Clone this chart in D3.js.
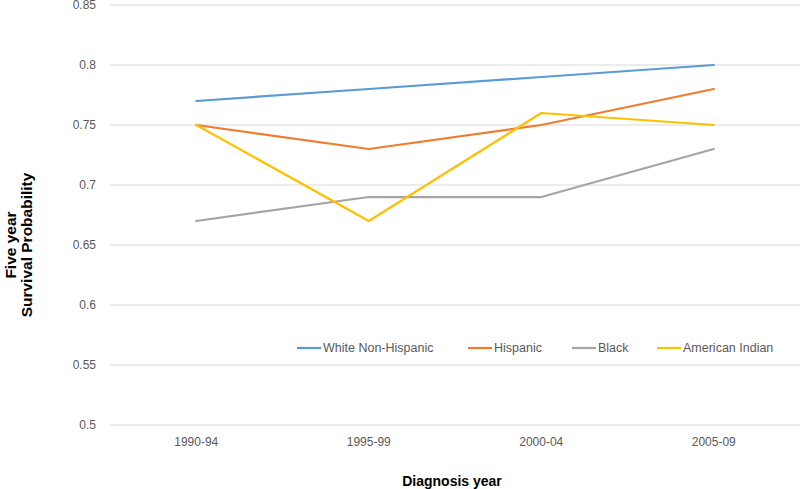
<!DOCTYPE html>
<html><head><meta charset="utf-8">
<script src="https://cdn.jsdelivr.net/npm/d3@7"></script>
<style>body{margin:0;background:#fff}svg{display:block}</style>
</head><body><svg id="c" width="800" height="489"></svg>
<script>
const categories = ["1990-94","1995-99","2000-04","2005-09"];
const seriesNames = ["White Non-Hispanic","Hispanic","Black","American Indian"];
const white = [0.77,0.78,0.79,0.80];
const hispanic = [0.75,0.73,0.75,0.78];
const black = [0.67,0.69,0.69,0.73];
const americanIndian = [0.75,0.67,0.76,0.75];
const yTicks = [0.5,0.55,0.6,0.65,0.7,0.75,0.8,0.85];
const yTickLabels = ["0.5","0.55","0.6","0.65","0.7","0.75","0.8","0.85"];
const colors = ["#5B9BD5","#ED7D31","#A5A5A5","#FFC000"];
const series = [white,hispanic,black,americanIndian];

const svg = d3.select("#c");
const x = d3.scaleBand().domain(categories).range([110,800]);
const y = d3.scaleLinear().domain([0.5,0.85]).range([425,5]);

svg.append("g").selectAll("line").data(yTicks).join("line")
  .attr("x1",110).attr("x2",800)
  .attr("y1",d=>y(d)).attr("y2",d=>y(d))
  .attr("stroke","#d9d9d9").attr("stroke-width",1);

const yAxis = d3.axisLeft(y).tickValues(yTicks).tickFormat((d,i)=>yTickLabels[i]).tickSize(0).tickPadding(0);
const ya = svg.append("g").attr("transform","translate(96,0)").call(yAxis);
ya.select(".domain").remove();
ya.selectAll("text").attr("fill","#595959").style("font-family","Liberation Sans, Arial, sans-serif").style("font-size","12px");

const xAxis = d3.axisBottom(x).tickSize(0).tickPadding(0);
const xa = svg.append("g").attr("transform","translate(0,437)").call(xAxis);
xa.select(".domain").remove();
xa.selectAll("text").attr("fill","#595959").style("font-family","Liberation Sans, Arial, sans-serif").style("font-size","12px");

const line = d3.line().x((d,i)=>x(categories[i])+x.bandwidth()/2).y(d=>y(d));
svg.append("g").selectAll("path").data(series).join("path")
  .attr("d",d=>line(d)).attr("fill","none")
  .attr("stroke",(d,i)=>colors[i]).attr("stroke-width",2.25).attr("stroke-linejoin","round").attr("stroke-linecap","round");

const legendX = [297,468,572,657];
const lg = svg.append("g").selectAll("g").data(seriesNames).join("g")
  .attr("transform",(d,i)=>`translate(${legendX[i]},348)`);
lg.append("line").attr("x1",0).attr("x2",24).attr("y1",0).attr("y2",0)
  .attr("stroke",(d,i)=>colors[i]).attr("stroke-width",2.25);
lg.append("text").attr("x",26).attr("y",4).text(d=>d)
  .attr("fill","#595959").style("font-family","Liberation Sans, Arial, sans-serif").style("font-size","12.5px");

svg.append("text").attr("x",452).attr("y",486).attr("text-anchor","middle")
  .style("font-family","Liberation Sans, Arial, sans-serif").style("font-size","14px").style("font-weight","bold").text("Diagnosis year");
const yt = svg.append("text").attr("transform","translate(0,245) rotate(-90)").attr("text-anchor","middle")
  .style("font-family","Liberation Sans, Arial, sans-serif").style("font-size","15.5px").style("font-weight","bold");
yt.append("tspan").attr("x",0).attr("y",16).text("Five year");
yt.append("tspan").attr("x",0).attr("y",32).text("Survival Probability");
</script></body></html>
